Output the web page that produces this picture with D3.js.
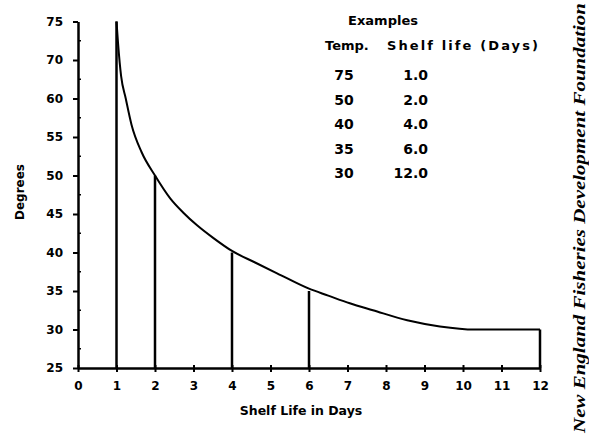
<!DOCTYPE html>
<html>
<head>
<meta charset="utf-8">
<script src="https://cdn.jsdelivr.net/npm/d3@7"></script>
<style>
  body { margin: 0; background: #fff; }
  text { font-family: 'DejaVu Sans', sans-serif; font-weight: bold; fill: #000; }
</style>
</head>
<body>
<script>
// axis labels as printed (evenly spaced, 65 is skipped in the original)
var yTicks = [25, 30, 35, 40, 45, 50, 55, 60, 70, 75]
var xTicks = [0, 1, 2, 3, 4, 5, 6, 7, 8, 9, 10, 11, 12]

// examples table
var exTemps = [75, 50, 40, 35, 30]
var exDays = [1, 2, 4, 6, 12]

// curve
var curveDays = [1.0, 1.04, 1.12, 1.24, 1.39, 1.65, 2.0, 2.4, 2.73, 3.1, 3.51, 4.0, 4.6, 5.17, 6.0, 6.5, 7.06, 7.66, 8.55, 9.4, 10.3, 11, 12]
var curveTemps = [75, 72.2, 65.8, 60.0, 56.6, 53.05, 50, 47, 45.2, 43.5, 41.9, 40.2, 38.7, 37.3, 35.3, 34.4, 33.4, 32.5, 31.2, 30.4, 30, 30, 30]

var margin = { top: 21.5, right: 49, bottom: 69, left: 78 },
    width = 589 - margin.left - margin.right,
    height = 437 - margin.top - margin.bottom

var x = d3.scaleLinear().domain([0, 12]).range([0, width])
// evenly spaced printed labels -> piecewise scale
var y = d3.scaleLinear()
    .domain(yTicks)
    .range(yTicks.map((d, i) => height - i * height / (yTicks.length - 1)))

var svg = d3.select('body').append('svg')
    .attr('width', 589)
    .attr('height', 437)
    .append('g')
    .attr('transform', 'translate(' + margin.left + ',' + margin.top + ')')

// x axis
var gx = svg.append('g')
    .attr('transform', 'translate(0,' + height + ')')
    .call(d3.axisBottom(x).tickValues(xTicks).tickSize(4).tickSizeOuter(0).tickPadding(9).tickFormat(d3.format('d')))
gx.select('.domain').attr('stroke-width', 2.5)
gx.selectAll('.tick line').attr('y1', -3).attr('stroke-width', 2)
gx.selectAll('.tick text').attr('font-size', 12).style('font-family', 'DejaVu Sans').style('font-weight', 'bold')

// y axis
var gy = svg.append('g')
    .call(d3.axisLeft(y).tickValues(yTicks).tickSize(5).tickSizeOuter(0).tickPadding(10).tickFormat(d => d))
gy.select('.domain').attr('stroke-width', 2.5)
gy.selectAll('.tick line').attr('stroke-width', 2)
gy.selectAll('.tick text').attr('font-size', 12).style('font-family', 'DejaVu Sans').style('font-weight', 'bold')

// minor ticks on y axis
svg.append('g').selectAll('line')
    .data(d3.pairs(yTicks))
    .join('line')
    .attr('x1', 0).attr('x2', 3)
    .attr('y1', d => (y(d[0]) + y(d[1])) / 2)
    .attr('y2', d => (y(d[0]) + y(d[1])) / 2)
    .attr('stroke', '#000').attr('stroke-width', 1.5)

// drop lines
svg.append('g').selectAll('line')
    .data(exDays.map((d, i) => ({ day: d, temp: exTemps[i] })))
    .join('line')
    .attr('x1', d => x(d.day)).attr('x2', d => x(d.day))
    .attr('y1', d => y(d.temp)).attr('y2', y(25))
    .attr('stroke', '#000').attr('stroke-width', 2.5)

// curve
var line = d3.line()
    .x(d => x(d[0]))
    .y(d => y(d[1]))
    .curve(d3.curveMonotoneX)
svg.append('path')
    .datum(curveDays.map((d, i) => [d, curveTemps[i]]))
    .attr('d', line)
    .attr('fill', 'none')
    .attr('stroke', '#000')
    .attr('stroke-width', 2)

// axis titles
svg.append('text')
    .attr('transform', `translate(${301 - margin.left}, ${height + 47})`)
    .attr('text-anchor', 'middle')
    .attr('font-size', 12.5)
    .text('Shelf Life in Days')

svg.append('text')
    .attr('transform', `translate(${24 - margin.left}, ${192 - margin.top}) rotate(-90)`)
    .attr('text-anchor', 'middle')
    .attr('font-size', 12)
    .text('Degrees')

// examples table
var tx = 0 - margin.left, ty = 0 - margin.top
svg.append('text')
    .attr('x', 383 + tx).attr('y', 25 + ty)
    .attr('text-anchor', 'middle').attr('font-size', 13)
    .text('Examples')
svg.append('text')
    .attr('x', 325 + tx).attr('y', 50 + ty)
    .attr('font-size', 13)
    .text('Temp.')
svg.append('text')
    .attr('x', 387 + tx).attr('y', 50 + ty)
    .attr('font-size', 13)
    .attr('textLength', 151)
    .text('Shelf life (Days)')

var rowY = d3.scaleLinear().domain([0, exTemps.length - 1]).range([80, 178])
svg.append('g').selectAll('text')
    .data(exTemps)
    .join('text')
    .attr('x', 344 + tx).attr('y', (d, i) => rowY(i) + ty)
    .attr('text-anchor', 'middle').attr('font-size', 14)
    .text(d => d)
svg.append('g').selectAll('text')
    .data(exDays)
    .join('text')
    .attr('x', 428 + tx).attr('y', (d, i) => rowY(i) + ty)
    .attr('text-anchor', 'end').attr('font-size', 14)
    .text(d => d3.format('.1f')(d))

// credit on the right edge
svg.append('text')
    .attr('transform', `translate(${585 - margin.left}, ${218 - margin.top}) rotate(-90)`)
    .attr('text-anchor', 'middle')
    .attr('font-size', 16)
    .style('font-family', 'Liberation Serif, serif')
    .style('font-style', 'italic')
    .attr('textLength', 430)
    .attr('lengthAdjust', 'spacingAndGlyphs')
    .text('New England Fisheries Development Foundation')
</script>
</body>
</html>
